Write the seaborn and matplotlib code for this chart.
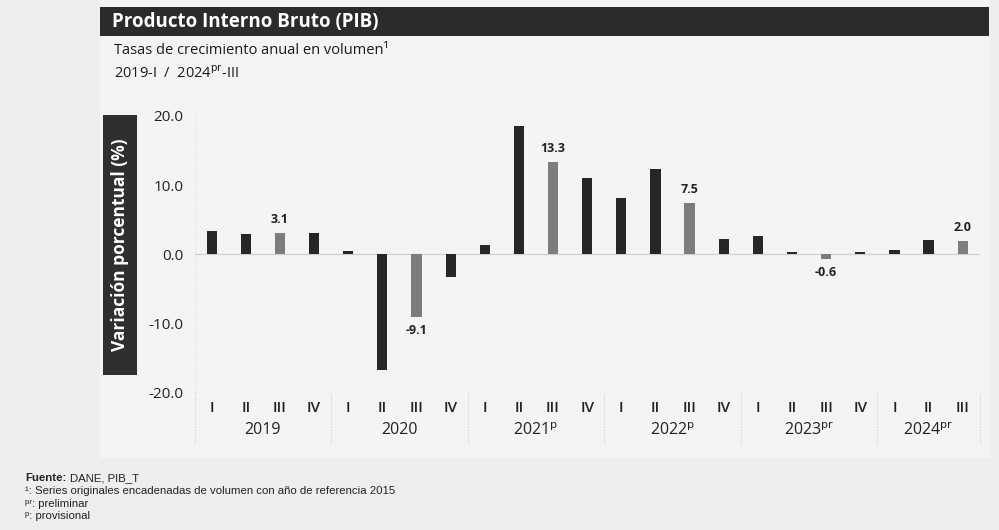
import numpy as np
import pandas as pd
import matplotlib
matplotlib.use('Agg')
import matplotlib.pyplot as plt
import seaborn as sns
from matplotlib.patches import Rectangle

# =============================================================================
# Data
# =============================================================================

years = ['2019', '2020', r'2021$^{\mathrm{p}}$', r'2022$^{\mathrm{p}}$',
         r'2023$^{\mathrm{pr}}$', r'2024$^{\mathrm{pr}}$']
quarters_per_year = [4, 4, 4, 4, 4, 3]
quarter_names = ['I', 'II', 'III', 'IV']

values = [3.4, 3.0, 3.1, 3.1,
          0.5, -16.7, -9.1, -3.3,
          1.4, 18.6, 13.3, 11.0,
          8.2, 12.3, 7.5, 2.2,
          2.6, 0.3, -0.6, 0.4,
          0.7, 2.1, 2.0]

labelled = [2, 6, 10, 14, 18, 22]   # tercer trimestre de cada año

periods = []
roman = []
for y, n in zip(['2019', '2020', '2021', '2022', '2023', '2024'], quarters_per_year):
    for q in quarter_names[:n]:
        periods.append(y + '-' + q)
        roman.append(q)

df = pd.DataFrame({'periodo': periods, 'valor': values})
df['grupo'] = ['destacado' if i in labelled else 'normal' for i in range(len(df))]

# =============================================================================
# Plot
# =============================================================================

sns.set_style('white')
plt.rcParams['font.family'] = ['Open Sans', 'DejaVu Sans']

dark = '#262626'
grey = '#7d7d7d'

fig = plt.figure(figsize=(9.99, 5.30), dpi=100)
fig.patch.set_facecolor('#eceef0')

W, H = 999, 530
def fx(px):
    return px / W
def fy(py):
    return 1 - py / H

# chart panel background
fig.patches.append(Rectangle((fx(100), fy(458)), fx(990) - fx(100), fy(0) - fy(458),
                             transform=fig.transFigure, facecolor='#f4f4f4',
                             edgecolor='none', zorder=-5))

# title bar
fig.patches.append(Rectangle((fx(100), fy(36)), fx(989) - fx(100), fy(7) - fy(36),
                             transform=fig.transFigure, facecolor='#2b2b2b',
                             edgecolor='none', zorder=1))
fig.text(fx(112), fy(21.5), 'Producto Interno Bruto (PIB)', color='white',
         fontsize=13.5, fontweight='bold', va='center', ha='left')
fig.text(fx(114), fy(50), 'Tasas de crecimiento anual en volumen¹',
         color='#1a1a1a', fontsize=10.5, va='center', ha='left')
fig.text(fx(114), fy(73), r'2019-I  /  2024$^{\mathrm{pr}}$-III',
         color='#1a1a1a', fontsize=10.5, va='center', ha='left')

# y-label box
fig.patches.append(Rectangle((fx(103), fy(375)), fx(137) - fx(103), fy(115) - fy(375),
                             transform=fig.transFigure, facecolor='#2f2f2f',
                             edgecolor='none', zorder=1))
fig.text(fx(120), fy(245), 'Variación porcentual (%)', color='white', rotation=90,
         fontsize=12.5, fontweight='bold', va='center', ha='center')

ax = fig.add_axes([fx(194.6), fy(393), fx(979.8) - fx(194.6), fy(109) - fy(393)])
ax.set_facecolor('none')
ax.set_zorder(3)

sns.barplot(data=df, x='periodo', y='valor', hue='grupo',
            palette={'normal': dark, 'destacado': grey},
            width=0.3, dodge=False, legend=False, ax=ax,
            edgecolor='none', saturation=1)

ax.set_xlim(-0.5, len(df) - 0.5)
ax.set_ylim(-20, 21)
ax.set_yticks([-20, -10, 0, 10, 20])
ax.set_yticklabels(['-20.0', '-10.0', '0.0', '10.0', '20.0'])
ax.tick_params(axis='y', length=0, pad=8, labelsize=11, labelcolor='#222222')
ax.set_xticks(range(len(df)))
ax.set_xticklabels(roman, fontweight='semibold')
ax.tick_params(axis='x', length=0, pad=6, labelsize=11, labelcolor='#222222')
ax.set_xlabel('')
ax.set_ylabel('')
for s in ax.spines.values():
    s.set_visible(False)

ax.axhline(0, color='#d0d0d0', lw=0.9, zorder=0)
ax.axhline(-20, color='#b5b5b5', lw=0.9, ls=(0, (3, 4)), zorder=0)
ax.axvline(-0.5, ymin=0, ymax=40 / 41, color='#dddddd', lw=0.8, ls=(0, (1, 2)), zorder=0)

# value labels
for i in labelled:
    v = values[i]
    if v >= 0:
        ax.annotate(f'{v:.1f}', (i, v), xytext=(0, 5), textcoords='offset points',
                    ha='center', va='bottom', fontsize=9, fontweight='bold', color='#222222')
    else:
        ax.annotate(f'{v:.1f}', (i, v), xytext=(0, -5), textcoords='offset points',
                    ha='center', va='top', fontsize=9, fontweight='bold', color='#222222')

# year group labels and separators
trans = ax.get_xaxis_transform()
start = 0
edges = [-0.5]
for name, n in zip(years, quarters_per_year):
    mid = start + (n - 1) / 2
    ax.text(mid, -0.132, name, transform=trans, ha='center', va='center',
            fontsize=11.5, color='#222222')
    start += n
    edges.append(start - 0.5)
for e in edges:
    ax.plot([e, e], [0, -0.18], transform=trans, color='#cfcfcf', lw=0.8,
            ls=(0, (1, 1.5)), clip_on=False)

# footnotes
foot_font = ['Liberation Sans', 'DejaVu Sans']
fig.text(fx(25), fy(478), 'Fuente:', fontsize=8.2, color='#222222', fontweight='bold',
         va='center', ha='left', family=foot_font)
fig.text(fx(70), fy(478), 'DANE, PIB_T', fontsize=8.2, color='#222222',
         va='center', ha='left', family=foot_font)
notes = ['¹: Series originales encadenadas de volumen con año de referencia 2015',
         'ᵖʳ: preliminar',
         'ᵖ: provisional']
for k, t in enumerate(notes):
    fig.text(fx(25), fy(491 + k * 12.7), t, fontsize=8.2, color='#222222',
             va='center', ha='left', family=foot_font)

fig.savefig('out.png', dpi=100, facecolor=fig.get_facecolor())
